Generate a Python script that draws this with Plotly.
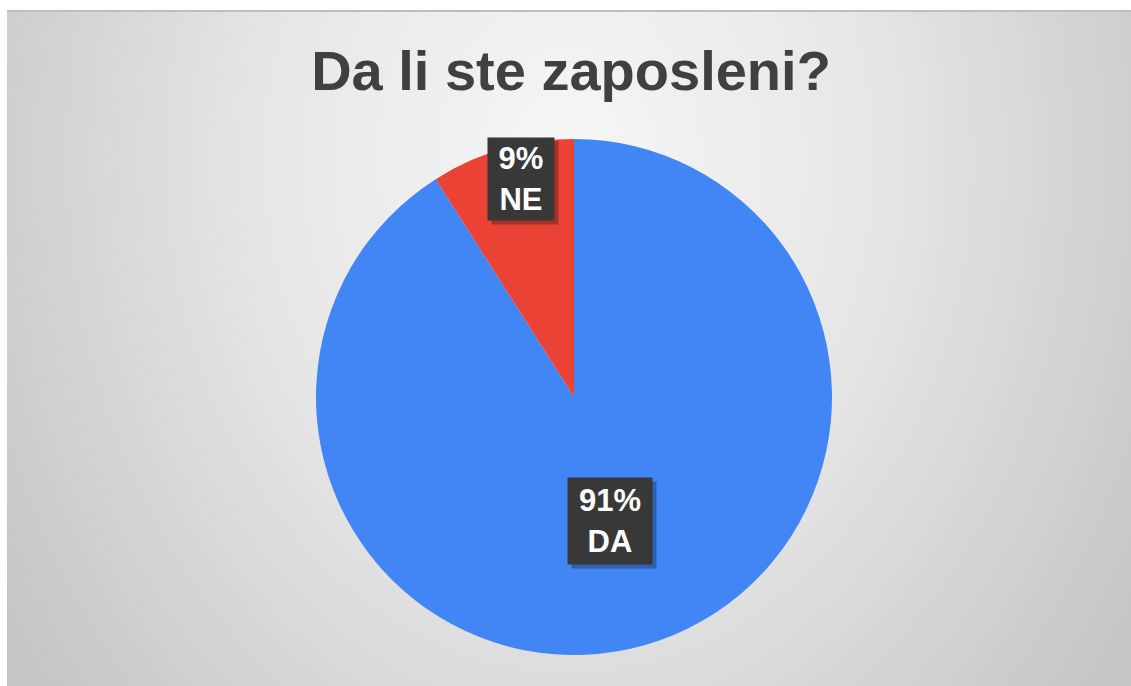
import base64
import math
import plotly.graph_objects as go

# Survey answers
categories = ["DA", "NE"]
shares = [91, 9]
colors = ["#4285F4", "#EA4335"]
title_text = "Da li ste zaposleni?"

W, H = 1131, 686
M_L, M_R, M_T, M_B = 17, 0, 139, 31
plot_w = W - M_L - M_R
plot_h = H - M_T - M_B

# Soft radial-gradient panel behind the chart
panel_x0, panel_y0 = 7, 10
pw, ph = W - panel_x0, H - panel_y0
svg = f"""<svg xmlns='http://www.w3.org/2000/svg' width='{pw}' height='{ph}' viewBox='0 0 {pw} {ph}' preserveAspectRatio='none'>
<defs>
<radialGradient id='g' gradientUnits='userSpaceOnUse' cx='{pw/2}' cy='{ph*0.22}' r='1'
 gradientTransform='translate({pw/2} {ph*0.22}) scale(660 840) translate({-pw/2} {-ph*0.22})'>
<stop offset='0' stop-color='#f6f6f6'/>
<stop offset='0.45' stop-color='#e7e7e7'/>
<stop offset='1' stop-color='#c6c6c6'/>
</radialGradient>
</defs>
<rect x='0' y='0' width='{pw}' height='{ph}' fill='url(#g)'/>
<rect x='0' y='0' width='{pw}' height='2' fill='#bdbdbd'/>
</svg>"""
svg_uri = "data:image/svg+xml;base64," + base64.b64encode(svg.encode()).decode()


def px_to_paper_x(px):
    return (px - M_L) / plot_w


def px_to_paper_y(py):
    return (H - M_B - py) / plot_h


fig = go.Figure(
    go.Pie(
        labels=categories,
        values=shares,
        marker=dict(colors=colors, line=dict(width=0)),
        sort=False,
        direction="clockwise",
        rotation=0,
        textinfo="none",
        hoverinfo="label+percent",
        showlegend=False,
        domain=dict(x=[0, 1], y=[0, 1]),
    )
)

# Data labels: dark boxes placed inside each slice
# (angle_frac = position along the slice's arc, radial_frac = share of the radius)
total = sum(shares)
radius_px = min(plot_w, plot_h) / 2
angle_frac = {"DA": 0.5, "NE": 0.58}
radial_frac = {"DA": 0.5, "NE": 0.87}
box_size = {"DA": (84, 86), "NE": (66, 82)}
cum = 0
annotations = []
for cat, val in zip(categories, shares):
    ang = (cum + val * angle_frac[cat]) / total * 2 * math.pi
    cum += val
    d = radial_frac[cat] * radius_px
    ax = 0.5 + d * math.sin(ang) / plot_w
    ay = 0.5 + d * math.cos(ang) / plot_h
    pct = round(val / total * 100)
    bw, bh = box_size[cat]
    common = dict(x=ax, y=ay, xref="paper", yref="paper", showarrow=False,
                  xanchor="center", yanchor="middle", width=bw, height=bh, borderpad=0)
    # shadow
    annotations.append(dict(common, text=" ", bgcolor="rgba(0,0,0,0.28)", xshift=4, yshift=-4))
    annotations.append(dict(
        common,
        text=f"<b>{pct}%</b><br><b>{cat}</b>",
        font=dict(family="Liberation Sans, Arial, sans-serif", size=31, color="#ffffff"),
        bgcolor="#383838", align="center", valign="middle",
    ))

fig.update_layout(
    width=W,
    height=H,
    margin=dict(l=M_L, r=M_R, t=M_T, b=M_B),
    paper_bgcolor="#ffffff",
    plot_bgcolor="rgba(0,0,0,0)",
    title=dict(
        text=f"<b>{title_text}</b>",
        font=dict(family="Liberation Sans, Arial, sans-serif", size=56, color="#404040"),
        x=571 / W, xanchor="center", xref="container",
        y=1 - 70 / H, yanchor="middle", yref="container",
    ),
    images=[dict(
        source=svg_uri, xref="paper", yref="paper",
        x=px_to_paper_x(panel_x0), y=px_to_paper_y(panel_y0),
        sizex=pw / plot_w, sizey=ph / plot_h,
        xanchor="left", yanchor="top", sizing="stretch", layer="below",
    )],
    annotations=annotations,
)

fig.write_html("out.html")
